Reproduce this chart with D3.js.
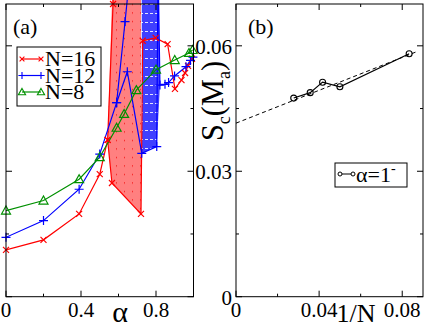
<!DOCTYPE html>
<html>
<head>
<meta charset="utf-8">
<script src="https://cdnjs.cloudflare.com/ajax/libs/d3/7.8.5/d3.min.js"></script>
<style>
body { margin: 0; background: #fff; }
text { font-family: "Liberation Serif", "Times New Roman", serif; fill: #000; }
</style>
</head>
<body>
<script>
// ---- panel (a): S_c(M_a) against alpha, three sizes ----
var n16a = [[0,0.0112],[0.2,0.0136],[0.39,0.0198],[0.5,0.0293],[0.542,0.0375],[0.571,0.0700],[0.575,0.085]];
var n16b = [[0.542,0.0375],[0.565,0.0272],[0.72,0.0198],[0.729,0.0612],[0.798,0.0619],[0.862,0.0604],
            [0.901,0.0497],[0.936,0.0518],[0.955,0.0535],[0.971,0.0552],[0.992,0.0569]];
var n16fill = [[0.542,0.0375],[0.575,0.085],[0.72,0.085],[0.72,0.0198],[0.565,0.0272]];

var n12a = [[0,0.0142],[0.2,0.0182],[0.39,0.0257],[0.5,0.0341],[0.59,0.0464],[0.635,0.0658],[0.652,0.0734]];
var n12b = [[0.59,0.0464],[0.647,0.0538],[0.724,0.0343],[0.804,0.0359],[0.811,0.08],[0.821,0.0506],
            [0.848,0.0508],[0.867,0.0512],[0.899,0.0528],[0.96,0.0550],[0.984,0.0565],[0.997,0.0573]];
var n12fill = [[0.724,0.08],[0.724,0.0343],[0.804,0.0359],[0.821,0.0506],[0.811,0.08]];

var n8 = [[0,0.0206],[0.2,0.0230],[0.39,0.0281],[0.5,0.0334],[0.59,0.0404],[0.63,0.0437],
          [0.695,0.0494],[0.80,0.0543],[0.9,0.0566],[0.976,0.0583],[0.995,0.0590]];

var legendA = ["N=16", "N=12", "N=8"];

// ---- panel (b): extrapolation in 1/N at alpha=1- ----
var invN = [1/36, 1/28, 1/24, 1/20, 1/12];
var scB = [0.0475, 0.0488, 0.0513, 0.0502, 0.0581];
var fitB = [[0, 0.0415], [0.087, 0.0586]];

var yTicks = [0, 0.03, 0.06];
var yMinor = [0.015, 0.045];
var xTicksA = [0, 0.4, 0.8];
var xMinorA = [0.2, 0.6];
var xTicksB = [0, 0.04, 0.08];
var xMinorB = [0.02, 0.06];

var W = 425, H = 326;
var svg = d3.select("body").append("svg").attr("width", W).attr("height", H);

var yTop = 4, yBot = 296.7;
var y = d3.scaleLinear().domain([0, 0.07]).range([yBot, yTop]);
var xa = d3.scaleLinear().domain([0, 1]).range([6, 193.5]);
var xb = d3.scaleLinear().domain([0, 0.09]).range([236, 423]);

var defs = svg.append("defs");
var pr = defs.append("pattern").attr("id", "redpat").attr("patternUnits", "userSpaceOnUse")
    .attr("width", 8).attr("height", 8.5);
pr.append("rect").attr("width", 8).attr("height", 8.5).attr("fill", "#ff8080");
pr.append("rect").attr("x", 4).attr("y", 4).attr("width", 1).attr("height", 1).attr("fill", "#f00000");
var pb = defs.append("pattern").attr("id", "bluepat").attr("patternUnits", "userSpaceOnUse")
    .attr("width", 5).attr("height", 9);
pb.append("rect").attr("width", 5).attr("height", 9).attr("fill", "#4040ff");
pb.append("rect").attr("x", 0).attr("y", 4).attr("width", 3).attr("height", 1).attr("fill", "#ffffff").attr("opacity", 0.85);

defs.append("clipPath").attr("id", "clipA").append("rect")
    .attr("x", xa(0)).attr("y", 0).attr("width", xa(1) - xa(0)).attr("height", yBot);

var line = function (xs) { return d3.line().x(d => xs(d[0])).y(d => y(d[1])); };
var la = line(xa);

function frame(xs, xT, xM, showY) {
    var g = svg.append("g");
    var x0 = xs.range()[0], x1 = xs.range()[1];
    g.append("rect").attr("x", x0).attr("y", yTop).attr("width", x1 - x0).attr("height", yBot - yTop)
        .attr("fill", "none").attr("stroke", "#000").attr("stroke-width", 1);
    function tk(xx1, yy1, xx2, yy2) {
        g.append("line").attr("x1", xx1).attr("y1", yy1).attr("x2", xx2).attr("y2", yy2).attr("stroke", "#000");
    }
    xT.forEach(function (v) { tk(xs(v), yBot, xs(v), yBot - 6); tk(xs(v), yTop, xs(v), yTop + 6); });
    xM.forEach(function (v) { tk(xs(v), yBot, xs(v), yBot - 3); tk(xs(v), yTop, xs(v), yTop + 3); });
    yTicks.forEach(function (v) { tk(x0, y(v), x0 + 6, y(v)); tk(x1, y(v), x1 - 6, y(v)); });
    yMinor.forEach(function (v) { tk(x0, y(v), x0 + 3, y(v)); tk(x1, y(v), x1 - 3, y(v)); });
    xT.forEach(function (v) {
        g.append("text").attr("x", xs(v)).attr("y", 316.5).attr("text-anchor", "middle")
            .attr("font-size", 21).text(String(v));
    });
    if (showY) {
        yTicks.forEach(function (v) {
            g.append("text").attr("x", x0 - 4).attr("y", y(v) + 8).attr("text-anchor", "end")
                .attr("font-size", 21).text(String(v));
        });
    }
}

// ---- panel (a) ----
var ga = svg.append("g").attr("clip-path", "url(#clipA)");
ga.append("path").attr("d", la(n16fill) + "Z").attr("fill", "url(#redpat)").attr("stroke", "none");
ga.append("path").attr("d", la(n12fill) + "Z").attr("fill", "url(#bluepat)").attr("stroke", "none");

var series = [
    { parts: [n16a, n16b], color: "#ff0000", mark: "M-3,-3L3,3M-3,3L3,-3" },
    { parts: [n12a, n12b], color: "#0000ff", mark: "M-4.5,0H4.5M0,-4.5V4.5" },
    { parts: [n8], color: "#009000", mark: "M0,-4.5L4.5,3.5H-4.5Z" }
];
series.forEach(function (s) {
    s.parts.forEach(function (p) {
        ga.append("path").attr("d", la(p)).attr("fill", "none").attr("stroke", s.color).attr("stroke-width", 1.2);
    });
});
series.forEach(function (s) {
    s.parts.forEach(function (p) {
        svg.append("g").selectAll("path").data(p.filter(d => d[1] <= 0.0705)).join("path")
            .attr("transform", d => "translate(" + xa(d[0]) + "," + y(d[1]) + ")")
            .attr("d", s.mark).attr("fill", "none").attr("stroke", s.color).attr("stroke-width", 1.2);
    });
});

frame(xa, xTicksA, xMinorA, false);

svg.append("text").attr("x", 13).attr("y", 34).attr("font-size", 22).text("(a)");
svg.append("text").attr("x", 120).attr("y", 322).attr("text-anchor", "middle").attr("font-size", 30).text("α");

// legend (a)
var lg = svg.append("g");
lg.append("rect").attr("x", 17).attr("y", 47).attr("width", 84).attr("height", 59)
    .attr("fill", "#fff").attr("stroke", "#000");
series.forEach(function (s, i) {
    var cy = 59 + i * 16.5;
    lg.append("line").attr("x1", 22).attr("x2", 41).attr("y1", cy).attr("y2", cy)
        .attr("stroke", s.color).attr("stroke-width", 1.2);
    [22, 41].forEach(function (cx) {
        lg.append("path").attr("transform", "translate(" + cx + "," + cy + ") scale(0.8)")
            .attr("d", s.mark).attr("fill", "none").attr("stroke", s.color).attr("stroke-width", 1.4);
    });
    lg.append("text").attr("x", 45).attr("y", cy + 7).attr("font-size", 22).text(legendA[i]);
});

// ---- panel (b) ----
var lb = line(xb);
svg.append("path").attr("d", lb(fitB)).attr("fill", "none").attr("stroke", "#000")
    .attr("stroke-width", 1).attr("stroke-dasharray", "4,3");
var ptsB = invN.map((v, i) => [v, scB[i]]);
svg.append("path").attr("d", lb(ptsB)).attr("fill", "none").attr("stroke", "#000").attr("stroke-width", 1.1);
svg.append("g").selectAll("circle").data(ptsB).join("circle")
    .attr("cx", d => xb(d[0])).attr("cy", d => y(d[1])).attr("r", 3)
    .attr("fill", "none").attr("stroke", "#000").attr("stroke-width", 1.1);

frame(xb, xTicksB, xMinorB, true);

svg.append("text").attr("x", 248).attr("y", 34).attr("font-size", 22).text("(b)");
svg.append("text").attr("x", 356).attr("y", 322).attr("text-anchor", "middle").attr("font-size", 26).text("1/N");

// y title of (b): big glyphs squeezed into the span between the 0.06 label and the 0.03 label
var ylg = svg.append("g").attr("transform", "translate(223,101) rotate(-90)");
var yl = ylg.append("text").attr("text-anchor", "middle").attr("font-size", 32);
yl.append("tspan").text("S");
yl.append("tspan").attr("font-size", 19).attr("dy", 7).text("c");
yl.append("tspan").attr("dy", -7).text("(M");
yl.append("tspan").attr("font-size", 19).attr("dy", 7).text("a");
yl.append("tspan").attr("dy", -7).text(")");
var ylLen = yl.node().getComputedTextLength();
yl.attr("transform", "scale(" + Math.min(1, 80 / ylLen) + ",1)");

// legend (b)
var lgb = svg.append("g");
lgb.append("rect").attr("x", 335).attr("y", 163).attr("width", 72).attr("height", 24)
    .attr("fill", "#fff").attr("stroke", "#000");
lgb.append("line").attr("x1", 340).attr("x2", 353).attr("y1", 174).attr("y2", 174).attr("stroke", "#000");
[340, 353].forEach(function (cx) {
    lgb.append("circle").attr("cx", cx).attr("cy", 174).attr("r", 2).attr("fill", "#fff").attr("stroke", "#000");
});
var lt = lgb.append("text").attr("x", 356).attr("y", 182).attr("font-size", 22);
lt.append("tspan").text("α=1");
lt.append("tspan").attr("font-size", 14).attr("dy", -9).text("-");
</script>
</body>
</html>
